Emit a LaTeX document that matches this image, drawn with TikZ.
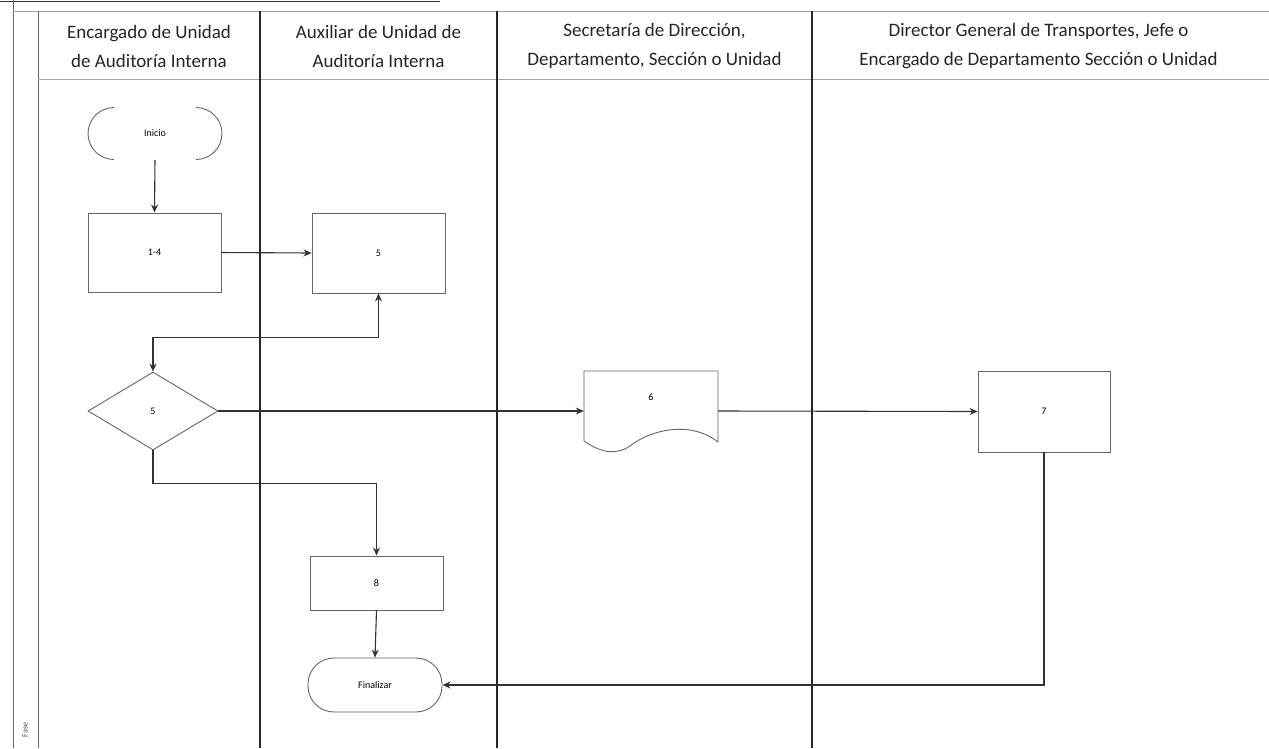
\documentclass[tikz,border=0pt]{standalone}
\usepackage{fontspec}
\setmainfont{Carlito}
\usetikzlibrary{arrows.meta,shapes.geometric}
\begin{document}
\begin{tikzpicture}[x={(1pt,0pt)},y={(0pt,-1pt)},
  lane/.style={line width=1.4pt,black!85},
  thinlane/.style={line width=0.8pt,black!60},
  sep/.style={line width=0.6pt,black!35},
  hdr/.style={align=center,font=\fontsize{19}{29}\selectfont,text=black!85},
  box/.style={draw=black!60,line width=0.9pt,rectangle,inner sep=0pt,font=\fontsize{10}{12}\selectfont},
  term/.style={draw=black!60,line width=0.9pt,rectangle,rounded corners=26pt,inner sep=0pt,font=\fontsize{10}{12}\selectfont},
  dec/.style={draw=black!60,line width=0.9pt,diamond,inner sep=0pt,font=\fontsize{10}{12}\selectfont},
  conn/.style={line width=1.1pt,black!80,-{Stealth[length=8pt,width=7pt]}},
  conn2/.style={line width=1.1pt,black!80,{Stealth[length=8pt,width=7pt]}-{Stealth[length=8pt,width=7pt]}}
]
\useasboundingbox (0,0) rectangle (1269,748);
\fill[white] (0,0) rectangle (1269,748);
% frame and lanes
\draw[line width=1pt,black!80] (0,1) -- (440,1);
\draw[thinlane] (13,0) -- (13,748);
\draw[sep] (13,11) -- (1269,11);
\draw[thinlane] (38,11) -- (38,748);
\draw[sep] (38,79) -- (1269,79);
\draw[lane] (260,11) -- (260,748);
\draw[lane] (497,11) -- (497,748);
\draw[lane] (812,11) -- (812,748);
% headers
\node[hdr] (h1) at (149,46) {Encargado de Unidad\\de Auditoría Interna};
\node[hdr] (h2) at (378.5,46) {Auxiliar de Unidad de\\Auditoría Interna};
\node[hdr] (h3) at (654.5,46) {Secretaría de Dirección,\\Departamento, Sección o Unidad};
\node[hdr] (h4) at (1038.5,46) {Director General de Transportes, Jefe o\\Encargado de Departamento Sección o Unidad};
\node[rotate=90,font=\fontsize{8}{9}\selectfont,text=black!70] (fase) at (25,730) {Fase};
% shapes
\node[draw=none,minimum width=134pt,minimum height=53pt,inner sep=0pt,font=\fontsize{10}{12}\selectfont] (ini) at (155,133.5) {Inicio};
\draw[line width=0.9pt,black!60] (114,107.5) arc[start angle=90,end angle=270,radius=26pt];
\draw[line width=0.9pt,black!60] (196,107.5) arc[start angle=90,end angle=-90,radius=26pt];
\node[box,minimum width=133pt,minimum height=79pt] (b14) at (154.5,252.5) {1-4};
\node[box,minimum width=133pt,minimum height=80pt] (b5) at (378.5,253) {5};
\node[dec,minimum width=130pt,minimum height=78pt] (d5) at (153,411) {5};
\node[minimum width=134pt,minimum height=80pt,inner sep=0pt,font=\fontsize{10}{12}\selectfont] (doc) at (651,411) {};
\draw[line width=0.9pt,black!60] (584,371) -- (718,371) -- (718,442)
  .. controls (690,420) and (650,430) .. (630,446)
  .. controls (615,456) and (600,452) .. (584,441) -- cycle;
\node[font=\fontsize{10}{12}\selectfont] (doclbl) at (651,397) {6};
\node[box,minimum width=132pt,minimum height=81pt] (b7) at (1044,411.5) {7};
\node[box,minimum width=133pt,minimum height=54pt] (b8) at (376.5,583) {8};
\node[term,minimum width=134pt,minimum height=54pt] (fin) at (375,685) {Finalizar};
% connectors
\draw[conn] (ini.south) -- (b14.north);
\draw[conn] (b14.east) -- (b5.west);
\draw[conn2] (b5.south) |- ([yshift=34pt]d5.north) -- (d5.north);
\draw[conn] (d5.east) -- (doc.west);
\draw[conn] (doc.east) -- (b7.west);
\draw[conn] (d5.south) -- ++(0,33) -| (b8.north);
\draw[conn] (b8.south) -- (fin.north);
\draw[conn] (b7.south) |- (fin.east);
\end{tikzpicture}
\end{document}
